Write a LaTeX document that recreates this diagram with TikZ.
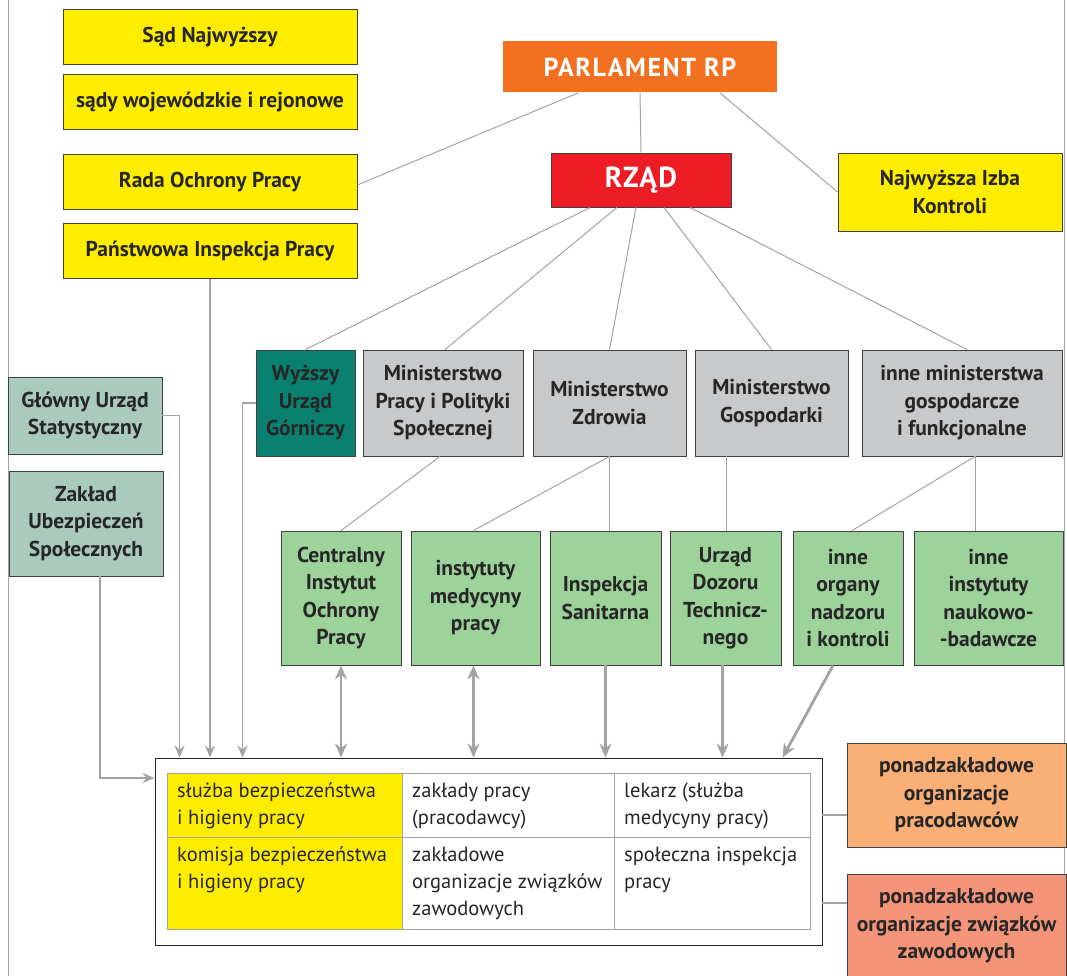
\documentclass[tikz,border=0pt]{standalone}
\usepackage{fontspec}
\setmainfont{PT Sans}
\usepackage{xcolor}
\usetikzlibrary{arrows.meta}

\definecolor{zolty}{HTML}{FFED00}
\definecolor{pomarancz}{HTML}{F37021}
\definecolor{czerwony}{HTML}{ED1C24}
\definecolor{morski}{HTML}{0A8070}
\definecolor{szary}{HTML}{C8C9CB}
\definecolor{bladymorski}{HTML}{A9CABD}
\definecolor{zielony}{HTML}{9DD39B}
\definecolor{brzoskwinia}{HTML}{F9AF76}
\definecolor{losos}{HTML}{F4957A}
\definecolor{linia}{HTML}{A3A3A5}

\tikzset{
  box/.style={draw=black!75, line width=0.9pt, align=center, inner sep=2pt,
    text=black!85, font=\bfseries\fontsize{21.5}{27.5}\selectfont},
  yellowbox/.style={box, fill=zolty, minimum width=294, minimum height=55},
  minbox/.style={box, fill=szary, minimum height=106},
  instbox/.style={box, fill=zielony, minimum height=134},
  sidebox/.style={box, fill=bladymorski, minimum width=154},
  orgbox/.style={box, minimum width=219},
  cell/.style={draw=linia, line width=1.2pt, anchor=north west},
  celltext/.style={anchor=north west, align=left, inner xsep=10pt, inner ysep=10pt,
    text=black!85, font=\fontsize{20.5}{27}\selectfont},
  link/.style={draw=linia, line width=1pt},
  thinarrow/.style={draw=linia, line width=1.6pt, -{Stealth[length=12pt,width=10pt]}},
  thickarrow/.style={draw=linia, line width=2.8pt, -{Stealth[length=14pt,width=12pt]}},
  twoarrow/.style={thickarrow, {Stealth[length=14pt,width=12pt]}-{Stealth[length=14pt,width=12pt]}}
}

\begin{document}
\begin{tikzpicture}[x=1pt,y=-1pt]
\useasboundingbox (0,0) rectangle (1067,976);
% ramka strony
\draw[linia, line width=0.8pt] (8,0) -- (8,976);
\draw[linia, line width=0.8pt] (1064,0) -- (1064,976);

% gora
\node[box, draw=none, fill=pomarancz, minimum width=274, minimum height=51, text=white,
  font=\bfseries\fontsize{26}{27}\selectfont\addfontfeature{LetterSpace=6}] (parl) at (640,67) {PARLAMENT RP};
\node[box, fill=czerwony, minimum width=180, minimum height=54, text=white,
  font=\bfseries\fontsize{29}{27}\selectfont\addfontfeature{LetterSpace=5}] (rzad) at (641,180) {RZĄD};
\node[box, fill=zolty, minimum width=224, minimum height=78] (nik) at (950,192) {Najwyższa Izba\\Kontroli};

\node[yellowbox] (sn) at (210,37) {Sąd Najwyższy};
\node[yellowbox] (sw) at (210,102) {sądy wojewódzkie i rejonowe};
\node[yellowbox] (rop) at (210,182) {Rada Ochrony Pracy};
\node[yellowbox] (pip) at (210,251) {Państwowa Inspekcja Pracy};

% ministerstwa
\node[box, fill=morski, minimum width=99, minimum height=106] (wug) at (305.5,403) {Wyższy\\Urząd\\Górniczy};
\node[minbox, minimum width=160] (mpips) at (443,403) {Ministerstwo\\Pracy i Polityki\\Społecznej};
\node[minbox, minimum width=153] (mz) at (609.5,403) {Ministerstwo\\Zdrowia};
\node[minbox, minimum width=153] (mg) at (771.5,403) {Ministerstwo\\Gospodarki};
\node[minbox, minimum width=200] (inne) at (962,403) {inne ministerstwa\\gospodarcze\\i funkcjonalne};

\node[sidebox, minimum height=77] (gus) at (85,415.5) {Główny Urząd\\Statystyczny};
\node[sidebox, minimum height=105] (zus) at (86,523.5) {Zakład\\Ubezpieczeń\\Społecznych};

% instytucje
\node[instbox, minimum width=120] (ciop) at (341,598) {Centralny\\Instytut\\Ochrony\\Pracy};
\node[instbox, minimum width=129] (im) at (475.5,598) {instytuty\\medycyny\\pracy};
\node[instbox, minimum width=111] (is) at (605.5,598) {Inspekcja\\Sanitarna};
\node[instbox, minimum width=111] (udt) at (725.5,598) {Urząd\\Dozoru\\Technicz-\\nego};
\node[instbox, minimum width=110] (ion) at (848,598) {inne\\organy\\nadzoru\\i kontroli};
\node[instbox, minimum width=149] (iin) at (988.5,598) {inne\\instytuty\\naukowo-\\-badawcze};

% zaklad pracy
\node[draw=black!85, line width=0.9pt, minimum width=667, minimum height=187] (tbl) at (488.5,851.5) {};
\node[cell, fill=zolty, minimum width=235, minimum height=64] (c11) at (167,773) {};
\node[cell, fill=white, minimum width=212, minimum height=64] (c12) at (402,773) {};
\node[cell, fill=white, minimum width=196, minimum height=64] (c13) at (614,773) {};
\node[cell, fill=zolty, minimum width=235, minimum height=92] (c21) at (167,837) {};
\node[cell, fill=white, minimum width=212, minimum height=92] (c22) at (402,837) {};
\node[cell, fill=white, minimum width=196, minimum height=92] (c23) at (614,837) {};
\node[celltext] (t11) at (c11.north west) {służba bezpieczeństwa\\i higieny pracy};
\node[celltext] (t12) at (c12.north west) {zakłady pracy\\(pracodawcy)};
\node[celltext] (t13) at (c13.north west) {lekarz (służba\\medycyny pracy)};
\node[celltext] (t21) at (c21.north west) {komisja bezpieczeństwa\\i higieny pracy};
\node[celltext] (t22) at (c22.north west) {zakładowe\\organizacje związków\\zawodowych};
\node[celltext] (t23) at (c23.north west) {społeczna inspekcja\\pracy};

\node[orgbox, fill=brzoskwinia, minimum height=104] (opr) at (956.5,795) {ponadzakładowe\\organizacje\\pracodawców};
\node[orgbox, fill=losos, minimum height=104] (ozz) at (956.5,926) {ponadzakładowe\\organizacje związków\\zawodowych};

% polaczenia
\draw[link] ([xshift=-62pt]parl.south) -- ([yshift=-3pt]rop.east);
\draw[link] (parl.south) -- (rzad.north);
\draw[link] ([xshift=80pt]parl.south) -- (nik.west);
\draw[link] ([xshift=-51pt]rzad.south) -- (wug.north);
\draw[link] ([xshift=-24pt]rzad.south) -- ([xshift=2pt]mpips.north);
\draw[link] ([xshift=-5pt]rzad.south) -- (mz.north);
\draw[link] ([xshift=23pt]rzad.south) -- (mg.north);
\draw[link] ([xshift=49pt]rzad.south) -- ([xshift=5pt]inne.north);

\draw[link] ([xshift=-3pt]mpips.south) -- (ciop.north);
\draw[link] (mz.south) -- ([xshift=-2pt]im.north);
\draw[link] (mz.south) -- (mz.south |- is.north);
\draw[link] ([xshift=-45pt]mg.south) -- ([xshift=-45pt]mg.south |- udt.north);
\draw[link] ([xshift=13pt]inne.south) -- ([xshift=4pt]ion.north);
\draw[link] ([xshift=13pt]inne.south) -- ([xshift=13pt]inne.south |- iin.north);

\draw[twoarrow] (ciop.south) -- (ciop.south |- tbl.north);
\draw[twoarrow] ([xshift=-2pt]im.south) -- ([xshift=-2pt]im.south |- tbl.north);
\draw[thickarrow] (is.south) -- (is.south |- tbl.north);
\draw[thickarrow] ([xshift=-3pt]udt.south) -- ([xshift=-3pt]udt.south |- tbl.north);
\draw[thickarrow] ([xshift=-15pt]ion.south) -- ([xshift=628pt]tbl.north west);

\draw[thinarrow] (gus.east) -| ([xshift=25pt]tbl.north west);
\draw[thinarrow] (pip.south) -- (pip.south |- tbl.north);
\draw[thinarrow] (wug.west) -| ([xshift=88pt]tbl.north west);
\draw[thinarrow] ([xshift=14pt]zus.south) |- ([yshift=73.5pt]tbl.west);

\draw[link, line width=2.2pt] ([yshift=36.5pt]tbl.east) -- ([yshift=36.5pt]tbl.east -| opr.west);
\draw[link, line width=2.2pt] ([yshift=-51.5pt]tbl.east) -- ([yshift=-51.5pt]tbl.east -| ozz.west);
\end{tikzpicture}
\end{document}
